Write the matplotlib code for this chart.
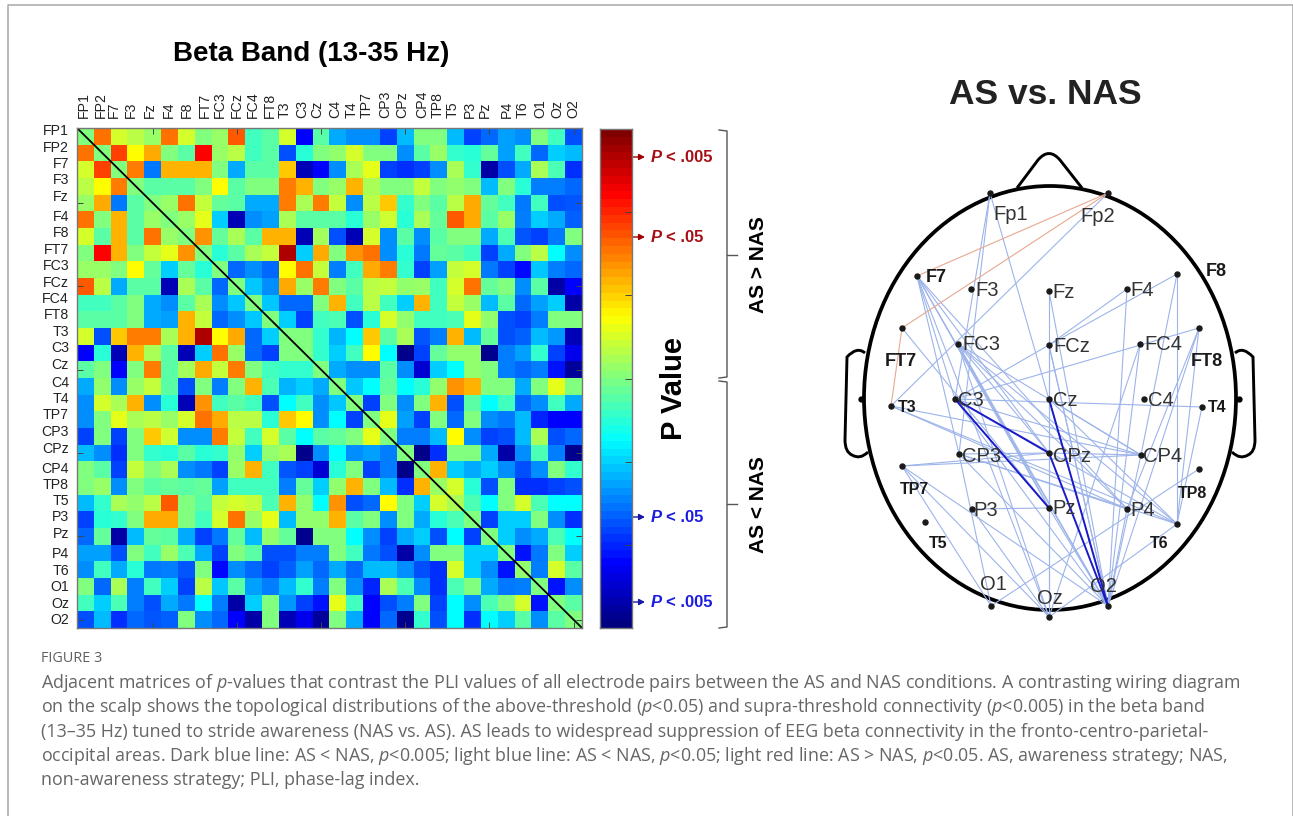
#!/usr/bin/env python3
"""Adjacency matrix of p-values and scalp wiring diagram, beta band."""

import numpy as np
import matplotlib
matplotlib.use('Agg')
import matplotlib.pyplot as plt
from matplotlib.colors import LinearSegmentedColormap
from matplotlib.patches import Ellipse, PathPatch
from matplotlib.path import Path

W, H = 1293, 816

channels = ['FP1', 'FP2', 'F7', 'F3', 'Fz', 'F4', 'F8', 'FT7', 'FC3', 'FCz',
            'FC4', 'FT8', 'T3', 'C3', 'Cz', 'C4', 'T4', 'TP7', 'CP3', 'CPz',
            'CP4', 'TP8', 'T5', 'P3', 'Pz', 'P4', 'T6', 'O1', 'Oz', 'O2']

# upper triangle of the symmetric matrix, one list per row starting at the diagonal
upper_rows = [
    [.5, .78, .6, .57, .53, .78, .6, .5, .53, .8, .45, .47, .6, .13, .47, .33, .3, .3, .2, .35, .5, .5, .35, .2, .25, .32, .3, .5, .45, .22],
    [.5, .82, .65, .73, .5, .47, .87, .53, .57, .45, .47, .22, .43, .5, .52, .6, .5, .5, .3, .47, .53, .44, .43, .48, .32, .45, .25, .37, .35],
    [.5, .77, .27, .72, .72, .72, .5, .33, .47, .47, .7, .08, .13, .3, .55, .62, .2, .18, .2, .3, .55, .44, .07, .22, .33, .55, .46, .18],
    [.5, .47, .47, .47, .5, .65, .47, .5, .5, .77, .72, .5, .53, .72, .55, .5, .5, .58, .5, .52, .5, .35, .5, .43, .28, .28, .25],
    [.5, .53, .78, .58, .48, .47, .33, .33, .77, .55, .77, .58, .3, .57, .7, .44, .5, .47, .57, .73, .48, .45, .27, .45, .22, .23],
    [.5, .53, .62, .37, .08, .3, .32, .55, .47, .47, .47, .43, .53, .59, .43, .55, .48, .8, .73, .47, .53, .28, .37, .33, .24],
    [.5, .75, .48, .55, .47, .72, .72, .08, .54, .22, .08, .6, .3, .47, .3, .47, .5, .5, .33, .46, .23, .2, .27, .5],
    [.5, .43, .47, .55, .58, .92, .37, .73, .5, .75, .78, .3, .43, .27, .48, .47, .45, .2, .33, .5, .57, .4, .3],
    [.5, .25, .3, .25, .65, .78, .58, .28, .45, .73, .77, .44, .2, .32, .58, .6, .27, .2, .14, .36, .28, .25],
    [.5, .36, .3, .73, .53, .77, .5, .47, .57, .58, .52, .53, .45, .6, .78, .48, .5, .3, .47, .07, .13],
    [.5, .36, .25, .25, .5, .72, .45, .57, .45, .37, .72, .45, .58, .53, .35, .47, .25, .32, .37, .07],
    [.5, .37, .2, .45, .46, .22, .43, .6, .52, .45, .45, .46, .62, .52, .22, .2, .28, .5, .5],
    [.5, .5, .44, .34, .4, .7, .47, .55, .23, .28, .72, .35, .48, .22, .24, .35, .31, .08],
    [.5, .44, .37, .45, .65, .4, .04, .2, .48, .52, .52, .05, .28, .32, .44, .2, .12],
    [.5, .33, .3, .3, .47, .3, .1, .37, .4, .52, .5, .28, .25, .28, .15, .06],
    [.5, .36, .4, .48, .4, .43, .52, .75, .72, .5, .5, .33, .5, .62, .5],
    [.5, .2, .5, .3, .5, .72, .22, .47, .4, .45, .25, .3, .45, .33],
    [.5, .62, .32, .2, .5, .25, .5, .3, .27, .35, .17, .13, .13],
    [.5, .28, .28, .35, .65, .3, .2, .22, .35, .55, .22, .25],
    [.5, .04, .18, .5, .5, .33, .07, .3, .46, .28, .05],
    [.5, .72, .37, .33, .37, .3, .22, .3, .5, .44],
    [.53, .6, .43, .22, .5, .18, .18, .2, .22],
    [.55, .46, .4, .5, .6, .46, .4, .4],
    [.5, .2, .37, .37, .5, .3, .18],
    [.5, .37, .3, .33, .46, .4],
    [.5, .15, .27, .5, .37],
    [.52, .28, .6, .47],
    [.5, .15, .3],
    [.5, .47],
    [.5],
]

# hand placed labels in the original, pixel positions
ylabel_y = [131, 148, 164, 180, 197, 217, 233, 250, 266, 283, 299, 315, 332, 348, 365,
            383, 399, 415, 432, 449, 469, 485, 501, 517, 534, 554, 571, 587, 604, 620]
xlabel_x = [84, 101, 114, 131, 150, 169, 187, 205, 220, 237, 253, 270, 285, 302, 317,
            335, 352, 367, 385, 402, 422, 438, 453, 470, 485, 507, 523, 540, 557, 573]

# scalp electrodes: position in pixels, label position, bold label
electrodes = {
    'Fp1': (990, 193, 1011, 215, False), 'Fp2': (1108, 193, 1098, 216, False),
    'F7': (917, 276, 936, 277, True), 'F3': (971, 289, 987, 291, False),
    'Fz': (1049, 291, 1064, 293, False), 'F4': (1127, 289, 1142, 291, False),
    'F8': (1177, 274, 1216, 272, True), 'FT7': (902, 328, 901, 361, True),
    'FC3': (958, 344, 981, 345, False), 'FCz': (1049, 345, 1072, 347, False),
    'FC4': (1140, 344, 1163, 345, False), 'FT8': (1199, 328, 1207, 361, True),
    'T3': (891, 406, 907, 407, True), 'C3': (955, 399, 971, 400, False),
    'Cz': (1049, 399, 1065, 401, False), 'C4': (1144, 399, 1161, 401, False),
    'T4': (1202, 407, 1217, 407, True), 'TP7': (902, 466, 914, 489, True),
    'CP3': (959, 454, 982, 456, False), 'CPz': (1049, 453, 1072, 456, False),
    'CP4': (1141, 455, 1163, 456, False), 'TP8': (1199, 469, 1192, 493, True),
    'T5': (925, 522, 938, 543, True), 'P3': (972, 509, 986, 510, False),
    'Pz': (1049, 508, 1064, 509, False), 'P4': (1127, 509, 1143, 510, False),
    'T6': (1177, 524, 1159, 544, True), 'O1': (991, 606, 993, 584, False),
    'Oz': (1049, 617, 1050, 598, False), 'O2': (1108, 606, 1103, 587, False),
}
red_links = [('Fp2', 'F7'), ('Fp2', 'FT7'), ('FT7', 'T3')]
dark_links = [('C3', 'CPz'), ('C3', 'Pz'), ('Cz', 'O2'), ('CPz', 'O2')]
blue_links = [
    ('Fp1', 'C3'), ('Fp1', 'CP3'), ('Fp1', 'O2'), ('Fp2', 'T3'),
    ('F7', 'CP3'), ('F7', 'C3'), ('F7', 'CPz'), ('F7', 'Pz'), ('F7', 'O2'), ('F7', 'Oz'), ('F7', 'P4'),
    ('Fz', 'CPz'), ('Fz', 'O2'), ('F4', 'FCz'), ('F4', 'O2'), ('F8', 'FCz'), ('F8', 'CP4'), ('F8', 'T6'),
    ('FT7', 'Pz'), ('FC3', 'CPz'), ('FC3', 'Pz'), ('FC3', 'O2'), ('FC3', 'CP4'), ('FC3', 'Oz'), ('FC3', 'P4'),
    ('FCz', 'C3'), ('FCz', 'Oz'), ('FCz', 'O2'), ('FC4', 'O2'), ('FC4', 'Oz'), ('FT8', 'C3'), ('FT8', 'P4'),
    ('FT8', 'T6'), ('FT8', 'O2'), ('T3', 'T6'), ('T3', 'P4'), ('T3', 'CP4'), ('T4', 'C3'), ('T4', 'T6'),
    ('TP7', 'CP4'), ('TP7', 'CPz'), ('TP7', 'O2'), ('TP7', 'Oz'), ('TP7', 'O1'), ('CP3', 'P4'), ('CP3', 'T6'),
    ('CP3', 'O2'), ('CP3', 'O1'), ('P3', 'Pz'), ('P3', 'Oz'), ('C3', 'CP4'), ('C3', 'O2'), ('C3', 'T6'),
    ('TP8', 'O1'), ('Pz', 'O2'), ('P4', 'O2'), ('T6', 'Oz'), ('CPz', 'CP4'), ('CPz', 'CP3'), ('Cz', 'T6'),
    ('Cz', 'CP4'), ('FCz', 'O2'), ('CP4', 'O2'), ('CPz', 'Oz'), ('FC3', 'T6'),
]

caption = [
    r'Adjacent matrices of $\mathit{p}$-values that contrast the PLI values of all electrode pairs between the AS and NAS conditions. A contrasting wiring diagram',
    r'on the scalp shows the topological distributions of the above-threshold ($\mathit{p}$<0.05) and supra-threshold connectivity ($\mathit{p}$<0.005) in the beta band',
    '(13\u201335 Hz) tuned to stride awareness (NAS vs. AS). AS leads to widespread suppression of EEG beta connectivity in the fronto-centro-parietal-',
    r'occipital areas. Dark blue line: AS < NAS, $\mathit{p}$<0.005; light blue line: AS < NAS, $\mathit{p}$<0.05; light red line: AS > NAS, $\mathit{p}$<0.05. AS, awareness strategy; NAS,',
    'non-awareness strategy; PLI, phase-lag index.',
]

plt.rcParams['font.family'] = ['Liberation Sans', 'DejaVu Sans']
plt.rcParams['mathtext.fontset'] = 'custom'
plt.rcParams['mathtext.it'] = 'Open Sans:italic'
plt.rcParams['mathtext.rm'] = 'Open Sans'


def px_axes(fig, left, top, right, bottom):
    return fig.add_axes([left / W, 1 - bottom / H, (right - left) / W, (bottom - top) / H])


fig = plt.figure(figsize=(W / 100, H / 100), dpi=100, facecolor='white')

# overlay in pixel coordinates
ax = fig.add_axes([0, 0, 1, 1])
ax.set_xlim(0, W)
ax.set_ylim(H, 0)
ax.axis('off')

# page frame
ax.plot([7.5, 7.5, 1292.5, 1292.5], [816, 4.5, 4.5, 816], color='#a8a8a8', lw=1.1)

# matrix
matrix = np.zeros((30, 30))
for i, row in enumerate(upper_rows):
    matrix[i, i:] = row
    matrix[i:, i] = row

heat_cmap = LinearSegmentedColormap.from_list('heat', [
    (0, '#00007f'), (.05, '#00008f'), (.13, '#0000ff'), (.2, '#0040ff'), (.3, '#0090ff'),
    (.37, '#00d0ff'), (.4, '#00ffff'), (.5, '#80ff80'), (.65, '#ffff00'), (.77, '#ff8000'),
    (.87, '#ff0000'), (.92, '#b00000'), (1, '#800000')], N=256)

ax_m = px_axes(fig, 77, 128, 582, 628)
ax_m.imshow(matrix, cmap=heat_cmap, vmin=0, vmax=1, aspect='auto', interpolation='nearest')
ax_m.plot([-0.5, 29.5], [-0.5, 29.5], color='black', lw=1.3)
ax_m.set_xlim(-0.5, 29.5)
ax_m.set_ylim(29.5, -0.5)
ax_m.set_xticks(np.arange(4, 30, 5))
ax_m.set_yticks(np.arange(4, 30, 5))
ax_m.tick_params(direction='in', length=4, width=0.7, color='#444444',
                 top=True, right=True, labelbottom=False, labelleft=False)
for s in ax_m.spines.values():
    s.set_color('#777777')
    s.set_linewidth(1)

for name, y in zip(channels, ylabel_y):
    ax.text(69, y, name, ha='right', va='center', fontsize=10.2, color='#222222')
for name, x in zip(channels, xlabel_x):
    ax.text(x, 118, name, rotation=90, ha='center', va='bottom', fontsize=10.2, color='#222222')

ax.text(311, 54, 'Beta Band (13-35 Hz)', ha='center', va='center', fontsize=20, fontweight='bold')

# colorbar, matlab style jet with 64 levels
jet64 = LinearSegmentedColormap.from_list('jet64', [
    (0, '#000080'), (.125, '#0000ff'), (.375, '#00ffff'), (.625, '#ffff00'),
    (.875, '#ff0000'), (1, '#800000')], N=64)
ax_c = px_axes(fig, 600, 129, 632, 628)
ax_c.imshow(np.linspace(1, 0, 64)[:, None], cmap=jet64, aspect='auto', extent=[0, 1, 0, 1])
ax_c.set_xticks([])
ax_c.yaxis.tick_right()
ax_c.set_yticks(np.arange(1, 6) / 6)
ax_c.tick_params(axis='y', direction='in', length=5, width=0.7, color='#444444', labelright=False)
for s in ax_c.spines.values():
    s.set_color('#777777')
    s.set_linewidth(1)

dark_red = '#a50f15'
pure_blue = '#1c1ce0'
thresholds = [(157, 632, '.005', dark_red), (237, 621, '.05', dark_red),
              (517, 622, '.05', pure_blue), (602, 632, '.005', pure_blue)]
for y, x0, lab, col in thresholds:
    arrow_col = '#a00000' if col == dark_red else '#1818a8'
    ax.annotate('', xy=(645, y), xytext=(x0, y), zorder=6,
                arrowprops=dict(arrowstyle='-|>,head_length=0.35,head_width=0.18', color=arrow_col,
                                lw=1, shrinkA=0, shrinkB=0))
    ax.text(651, y + 0.5, 'P', style='italic', fontweight='bold', fontsize=12, color=col, va='center')
    ax.text(666, y + 0.5, '< ' + lab, fontweight='bold', fontsize=12, color=col, va='center')

ax.text(674, 389, 'P Value', rotation=90, ha='center', va='center', fontsize=21, fontweight='bold')

# curly brackets
for top, mid, bottom in [(130, 255, 378), (381, 504, 628)]:
    ax.plot([719, 727, 727, 719], [top, top + 1, bottom - 1, bottom], color='#555555', lw=1)
    ax.plot([727, 737], [mid, mid], color='#555555', lw=1)
ax.text(758, 265, 'AS > NAS', rotation=90, ha='center', va='center', fontsize=15, fontweight='bold')
ax.text(758, 505, 'AS < NAS', rotation=90, ha='center', va='center', fontsize=15, fontweight='bold')

# scalp
ax.text(1045, 94, 'AS vs. NAS', ha='center', va='center', fontsize=25.5, fontweight='bold', color='#222222')
ax.add_patch(Ellipse((1050, 398), 372, 424, fill=False, edgecolor='black', lw=2.7))

nose = Path([(1017, 188), (1038, 160), (1049, 147), (1060, 160), (1082, 188)],
            [Path.MOVETO, Path.LINETO, Path.CURVE3, Path.CURVE3, Path.LINETO])
ax.add_patch(PathPatch(nose, fill=False, edgecolor='black', lw=2.1))
for side in (1, -1):
    ear = Path([(1050 + side * -185, 353), (1050 + side * -193, 346), (1050 + side * -203, 357),
                (1050 + side * -205, 440), (1050 + side * -205, 452), (1050 + side * -198, 455),
                (1050 + side * -190, 460), (1050 + side * -182, 452)],
               [Path.MOVETO, Path.CURVE3, Path.CURVE3, Path.LINETO,
                Path.CURVE3, Path.CURVE3, Path.CURVE3, Path.CURVE3])
    ax.add_patch(PathPatch(ear, fill=False, edgecolor='black', lw=2.1))
    ax.plot(1050 + side * -189, 399, 'o', color='black', ms=3.5)

for links, col, lw in [(blue_links, '#9db4ea', 0.8), (red_links, '#e8a890', 0.8), (dark_links, '#1a1ac8', 1.4)]:
    for a, b in links:
        ax.plot([electrodes[a][0], electrodes[b][0]], [electrodes[a][1], electrodes[b][1]],
                color=col, lw=lw, solid_capstyle='round')

for name, (x, y, lx, ly, bold) in electrodes.items():
    ax.plot(x, y, 'o', color='#1a1a1a', ms=3.6, zorder=4)
    if bold:
        size = 13 if name in ('F7', 'F8', 'FT7', 'FT8') else 11.5
        ax.text(lx, ly, name, ha='center', va='center', fontsize=size, fontweight='bold', color='#1a1a1a')
    else:
        ax.text(lx, ly, name, ha='center', va='center', fontsize=14.5, color='#333333')

# caption
ax.text(41, 659, 'FIGURE 3', fontsize=10.4, family='Open Sans', color='#5f5f5f', va='center')
for i, line in enumerate(caption):
    ax.text(41, 683 + i * 24.3, line, fontsize=12.9, family='Open Sans', color='#666666', va='center')

fig.savefig('out.png', dpi=100, facecolor='white')
